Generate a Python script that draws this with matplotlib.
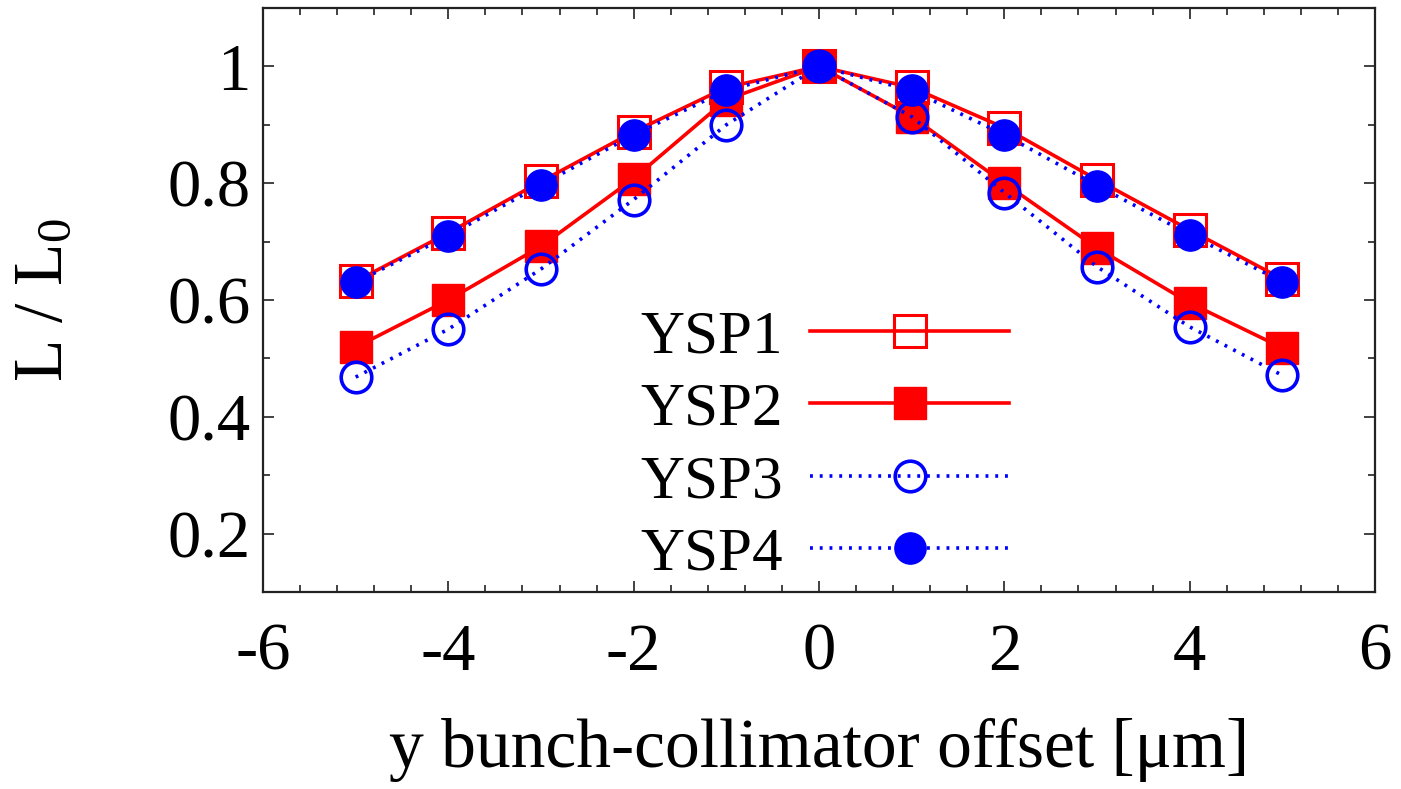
import matplotlib
matplotlib.use("Agg")
import matplotlib.pyplot as plt
from matplotlib.ticker import MultipleLocator

plt.rcParams['font.family'] = ['Liberation Serif', 'DejaVu Serif']
plt.rcParams['mathtext.fontset'] = 'custom'
plt.rcParams['mathtext.rm'] = 'Liberation Serif'
plt.rcParams['mathtext.it'] = 'Liberation Serif:italic'
plt.rcParams['axes.unicode_minus'] = False

offset = [-5, -4, -3, -2, -1, 0, 1, 2, 3, 4, 5]
ysp1 = [0.632, 0.715, 0.803, 0.888, 0.964, 1.0, 0.964, 0.895, 0.806, 0.72, 0.636]
ysp2 = [0.519, 0.600, 0.692, 0.808, 0.943, 1.0, 0.914, 0.800, 0.689, 0.595, 0.518]
ysp3 = [0.468, 0.550, 0.653, 0.772, 0.900, 1.0, 0.914, 0.784, 0.657, 0.554, 0.471]
ysp4 = [0.630, 0.710, 0.797, 0.883, 0.959, 1.0, 0.959, 0.883, 0.796, 0.712, 0.631]
labels = ['YSP1', 'YSP2', 'YSP3', 'YSP4']

fig = plt.figure(figsize=(14.01, 7.89), dpi=100)
ax = fig.add_axes([263/1401, 1-592/789, (1375-263)/1401, (592-8)/789])

red = '#ff0000'
blue = '#0000ff'
lw = 2.6
dots = (0, (0.8, 1.9))
ax.plot(offset, ysp1, color=red, lw=lw, ls='-', marker='s', ms=23,
        mfc='none', mec=red, mew=2.2, label=labels[0])
ax.plot(offset, ysp2, color=red, lw=lw, ls='-', marker='s', ms=22.5,
        mfc=red, mec=red, label=labels[1])
ax.plot(offset, ysp3, color=blue, lw=lw, ls=dots, marker='o', ms=22,
        mfc='none', mec=blue, mew=2.6, label=labels[2])
ax.plot(offset, ysp4, color=blue, lw=lw, ls=dots, marker='o', ms=22.5,
        mfc=blue, mec=blue, label=labels[3])

ax.set_xlim(-6, 6)
ax.set_ylim(0.1, 1.1)
ax.xaxis.set_major_locator(MultipleLocator(2))
ax.xaxis.set_minor_locator(MultipleLocator(0.4))
ax.set_yticks([0.2, 0.4, 0.6, 0.8, 1.0])
ax.set_yticklabels(['0.2', '0.4', '0.6', '0.8', '1'])
ax.yaxis.set_minor_locator(MultipleLocator(0.1))

for s in ax.spines.values():
    s.set_linewidth(1.6)
    s.set_color('#222222')
ax.tick_params(which='both', direction='in', top=True, right=True, width=1.3, color='#333333')
ax.tick_params(which='major', length=8, labelsize=48)
ax.tick_params(which='minor', length=5)
ax.tick_params(axis='x', pad=22)
ax.tick_params(axis='y', pad=9)

ax.set_xlabel('y bunch-collimator offset [μm]', fontsize=50, labelpad=25)
ax.set_ylabel(r'L / L$_\mathrm{0}$', fontsize=50)
ax.yaxis.set_label_coords(-0.168, 0.5)

leg = ax.legend(loc='center', bbox_to_anchor=(0.505, 0.25), frameon=False,
                markerfirst=False, fontsize=44, handlelength=3.25,
                labelspacing=0.27, handletextpad=0.45)

fig.savefig('out.png', dpi=100)
